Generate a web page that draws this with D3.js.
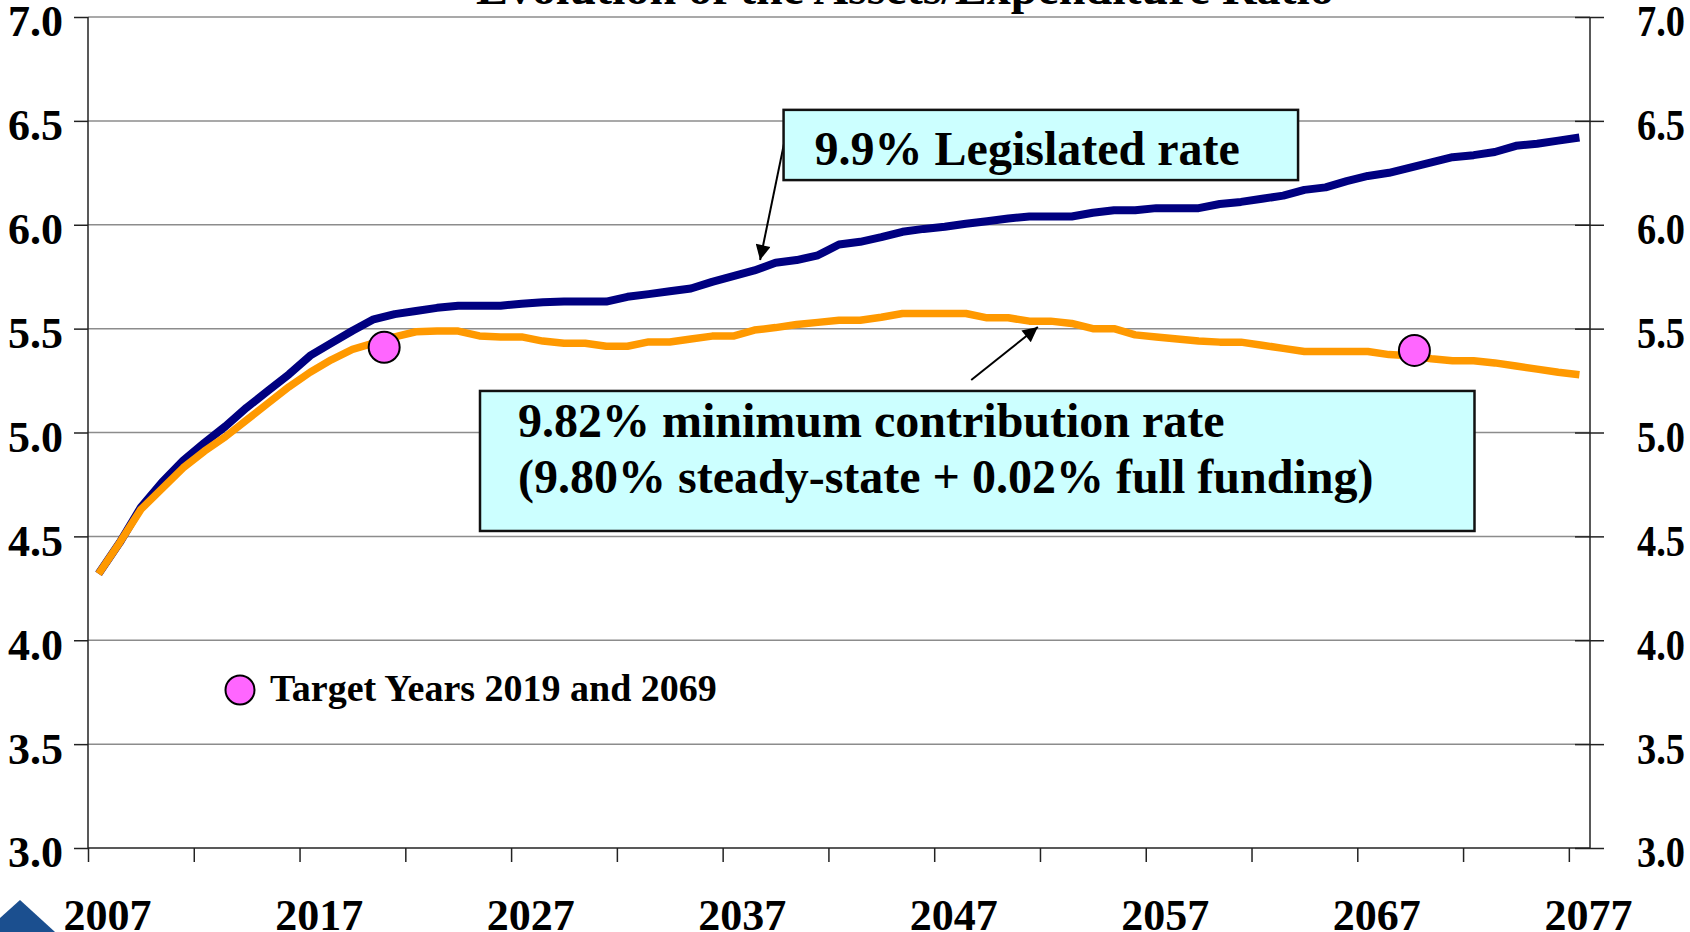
<!DOCTYPE html>
<meta charset="utf-8">
<style>

body {
    margin: 0;
    background: #fff;
}

svg {
    display: block;
    font-family: "Liberation Serif", "Times New Roman", serif;
    font-weight: bold;
}

.grid line {
    stroke: #8c8c8c;
    stroke-width: 1.5;
}

.axis path {
    display: none;
}

.axis line,
.frame {
    stroke: #222;
    stroke-width: 1.5;
}

.axis text {
    font-family: "Liberation Serif", "Times New Roman", serif;
    font-weight: bold;
    font-size: 44px;
    fill: #000;
}

.note rect {
    fill: #ccffff;
    stroke: #111;
    stroke-width: 2.5;
}

.note text {
    font-size: 48px;
}

</style>
<svg width="1690" height="932"></svg>
<script src="https://d3js.org/d3.v7.min.js"></script>
<script>

// one value per year, 2007 .. 2077
var years = d3.range(2007, 2078);

var legislated = [
    4.32, 4.47, 4.64, 4.76, 4.865, 4.95, 5.03, 5.12, 5.20, 5.28,
    5.37, 5.43, 5.49, 5.545, 5.57, 5.585, 5.60, 5.61, 5.61, 5.61,
    5.62, 5.627, 5.63, 5.63, 5.63, 5.653, 5.666, 5.68, 5.693, 5.725,
    5.753, 5.78, 5.817, 5.83, 5.853, 5.905, 5.918, 5.94, 5.966, 5.98,
    5.99, 6.005, 6.017, 6.03, 6.04, 6.04, 6.04, 6.058, 6.07, 6.07,
    6.08, 6.08, 6.08, 6.10, 6.11, 6.125, 6.14, 6.168, 6.18, 6.21,
    6.235, 6.25, 6.275, 6.30, 6.325, 6.335, 6.35, 6.38, 6.39, 6.405,
    6.42
];

var minimum = [
    4.32, 4.47, 4.63, 4.73, 4.83, 4.91, 4.98, 5.06, 5.14, 5.22,
    5.29, 5.35, 5.40, 5.43, 5.46, 5.485, 5.488, 5.488, 5.465, 5.46,
    5.46, 5.44, 5.43, 5.43, 5.415, 5.415, 5.436, 5.436, 5.45, 5.464,
    5.464, 5.493, 5.505, 5.52, 5.53, 5.54, 5.54, 5.555, 5.573, 5.573,
    5.573, 5.573, 5.552, 5.552, 5.536, 5.536, 5.525, 5.50, 5.50, 5.47,
    5.46, 5.45, 5.44, 5.435, 5.435, 5.42, 5.405, 5.39, 5.39, 5.39,
    5.39, 5.375, 5.37, 5.355, 5.345, 5.345, 5.335, 5.32, 5.305, 5.29,
    5.278
];

// target-year circles, where they sit in the picture
var targetYears = [2020.5, 2069.2];
var targetValues = [5.41, 5.395];

var yTicks = [3.0, 3.5, 4.0, 4.5, 5.0, 5.5, 6.0, 6.5, 7.0];
var xLabels = [2007, 2017, 2027, 2037, 2047, 2057, 2067, 2077];

var svg = d3.select("svg");

var x = d3.scaleLinear().domain([2006.5, 2077.5]).range([88, 1590]),
    y = d3.scaleLinear().domain([3, 7]).range([848, 17]);

var x0 = x.range()[0], x1 = x.range()[1];

// title, mostly above the top edge
svg.append("text")
    .attr("x", 905)
    .attr("y", 4)
    .attr("text-anchor", "middle")
    .style("font-size", "48px")
    .text("Evolution of the Assets/Expenditure Ratio");

// gridlines
svg.append("g")
    .attr("class", "grid")
    .selectAll("line")
    .data(yTicks.slice(1))
    .enter().append("line")
    .attr("x1", x0)
    .attr("x2", x1)
    .attr("y1", function(d) { return y(d); })
    .attr("y2", function(d) { return y(d); });

// left axis
svg.append("g")
    .attr("class", "axis")
    .attr("transform", "translate(" + x0 + ",0)")
    .call(d3.axisLeft(y).tickValues(yTicks).tickSize(14).tickPadding(11)
        .tickFormat(d3.format(".1f")))
    .selectAll("text").attr("dy", "0.43em");

// right axis, ticks cross the line
var right = svg.append("g")
    .attr("class", "axis")
    .attr("transform", "translate(" + x1 + ",0)")
    .call(d3.axisRight(y).tickValues(yTicks).tickSize(14).tickPadding(33)
        .tickFormat(d3.format(".1f")));
right.selectAll(".tick line").attr("x1", -15);
right.selectAll("text")
    .attr("dy", "0.43em")
    .attr("textLength", 48)
    .attr("lengthAdjust", "spacingAndGlyphs");

// bottom axis: ticks every 5 years between categories
svg.append("g")
    .attr("class", "axis")
    .attr("transform", "translate(0," + y(3) + ")")
    .call(d3.axisBottom(x)
        .tickValues(d3.range(0, 15).map(function(k) { return 2006.5 + 5 * k; }))
        .tickSize(14).tickFormat(""));

svg.append("g")
    .attr("class", "axis")
    .selectAll("text")
    .data(xLabels)
    .enter().append("text")
    .attr("x", function(d) { return x(d) + 9; })
    .attr("y", 930)
    .attr("text-anchor", "middle")
    .text(function(d) { return d; });

svg.append("line").attr("class", "frame")
    .attr("x1", x0).attr("x2", x1).attr("y1", y(3)).attr("y2", y(3));
svg.append("line").attr("class", "frame")
    .attr("x1", x0).attr("x2", x0).attr("y1", y(7)).attr("y2", y(3));
svg.append("line").attr("class", "frame")
    .attr("x1", x1).attr("x2", x1).attr("y1", y(7)).attr("y2", y(3));

// lines
var line = d3.line()
    .x(function(d, i) { return x(years[i]); })
    .y(function(d) { return y(d); });

svg.append("path")
    .datum(legislated)
    .attr("fill", "none")
    .attr("stroke", "#000080")
    .attr("stroke-width", 8)
    .attr("stroke-linejoin", "round")
    .attr("d", line);

svg.append("path")
    .datum(minimum)
    .attr("fill", "none")
    .attr("stroke", "#ff9900")
    .attr("stroke-width", 7.5)
    .attr("stroke-linejoin", "round")
    .attr("d", line);

svg.selectAll(".target")
    .data(targetYears)
    .enter().append("circle")
    .attr("class", "target")
    .attr("cx", function(d) { return x(d); })
    .attr("cy", function(d, i) { return y(targetValues[i]); })
    .attr("r", 15.5)
    .attr("fill", "#ff66ff")
    .attr("stroke", "#000")
    .attr("stroke-width", 2);

// legend
svg.append("circle")
    .attr("cx", 240).attr("cy", 690).attr("r", 14.5)
    .attr("fill", "#ff66ff").attr("stroke", "#000").attr("stroke-width", 2);
svg.append("text")
    .attr("x", 270).attr("y", 701)
    .style("font-size", "38px")
    .text("Target Years 2019 and 2069");

// arrows
svg.append("defs").append("marker")
    .attr("id", "head")
    .attr("viewBox", "0 0 10 10")
    .attr("refX", 10).attr("refY", 5)
    .attr("markerWidth", 19).attr("markerHeight", 15)
    .attr("markerUnits", "userSpaceOnUse")
    .attr("orient", "auto")
    .append("path").attr("d", "M0,0L10,5L0,10z").attr("fill", "#000");

var arrows = [
    {from: [2039.5, 6.44], to: [2038.27, 5.83]},
    {from: [2048.25, 5.253], to: [2051.4, 5.508]}
];

svg.selectAll(".arrow")
    .data(arrows)
    .enter().append("line")
    .attr("class", "arrow")
    .attr("x1", function(d) { return x(d.from[0]); })
    .attr("y1", function(d) { return y(d.from[1]); })
    .attr("x2", function(d) { return x(d.to[0]); })
    .attr("y2", function(d) { return y(d.to[1]); })
    .attr("stroke", "#000")
    .attr("stroke-width", 2)
    .attr("marker-end", "url(#head)");

// annotation boxes
var notes = [
    {x: [2039.38, 2063.7], y: [6.553, 6.215], pad: 31, lines: ["9.9% Legislated rate"], base: [55]},
    {x: [2025.03, 2072.04], y: [5.2, 4.526], pad: 38,
     lines: ["9.82% minimum contribution rate", "(9.80% steady-state + 0.02% full funding)"],
     base: [46, 102]}
];

var note = svg.selectAll(".note")
    .data(notes)
    .enter().append("g")
    .attr("class", "note")
    .attr("transform", function(d) { return "translate(" + x(d.x[0]) + "," + y(d.y[0]) + ")"; });

note.append("rect")
    .attr("width", function(d) { return x(d.x[1]) - x(d.x[0]); })
    .attr("height", function(d) { return y(d.y[1]) - y(d.y[0]); });

note.each(function(d) {
    var g = d3.select(this);
    d.lines.forEach(function(t, i) {
        g.append("text").attr("x", d.pad).attr("y", d.base[i]).text(t);
    });
});

// corner of the logo
svg.append("path")
    .attr("d", "M0,918L20,900L55,932L0,932Z")
    .attr("fill", "#1b4f8f");

</script>
